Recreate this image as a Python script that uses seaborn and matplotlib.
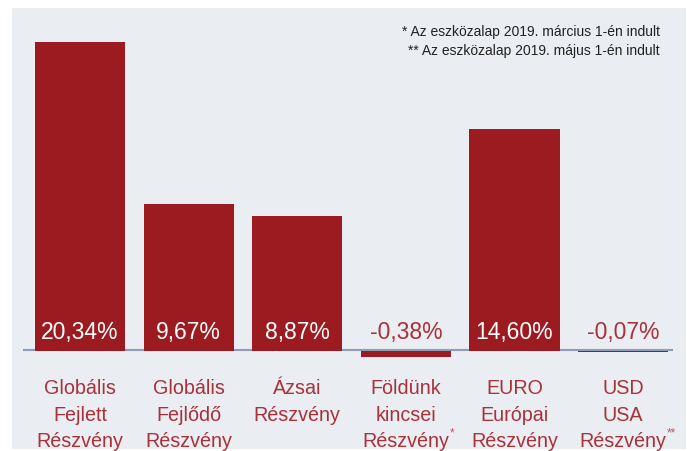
import matplotlib
matplotlib.use("Agg")
import matplotlib.pyplot as plt
import seaborn as sns
import pandas as pd
from matplotlib.patches import Rectangle

categories = ["Globális\nFejlett\nRészvény", "Globális\nFejlődő\nRészvény", "Ázsai\nRészvény",
              "Földünk\nkincsei\nRészvény", "EURO\nEurópai\nRészvény", "USD\nUSA\nRészvény"]
footnote_marks = ["", "", "", "*", "", "**"]
values = [20.34, 9.67, 8.87, -0.38, 14.60, -0.07]
value_labels = ["20,34%", "9,67%", "8,87%", "-0,38%", "14,60%", "-0,07%"]
notes = ["* Az eszközalap 2019. március 1-én indult", "** Az eszközalap 2019. május 1-én indult"]

sns.set_style("white")
plt.rcParams['font.family'] = ['Liberation Sans', 'DejaVu Sans']

BAR = "#9C1B21"
TXT = "#A8323A"
BG = "#EAEDF2"

W, H = 687, 452
DPI = 100
fig = plt.figure(figsize=(W / DPI, H / DPI), dpi=DPI)
fig.patch.set_facecolor("white")
fig.patches.append(Rectangle((12 / W, 2 / H), 674 / W, 441 / H, transform=fig.transFigure,
                             facecolor=BG, edgecolor="none", zorder=-10))

ax = fig.add_axes([23 / W, 1 - 362 / H, 650 / W, 342 / H])
ax.set_facecolor("none")

df = pd.DataFrame({"cat": categories, "val": values})
sns.barplot(data=df, x="cat", y="val", color=BAR, saturation=1, width=0.83, ax=ax)
for p in ax.patches:
    p.set_edgecolor("none")
    p.set_zorder(3)

ax.set_xlim(-0.525, 5.46)
ax.set_ylim(-0.658, 21.857)
ax.axhline(0.08, color="#8C9DB5", lw=1.5, zorder=2)

for i, (v, lab) in enumerate(zip(values, value_labels)):
    ax.text(i, 1.3, lab, ha="center", va="center", fontsize=16.5,
            color="white" if v > 0 else TXT, zorder=5)

LABEL_SIZE = 14.2
ax.set_xlabel("")
ax.set_ylabel("")
ax.set_yticks([])
ax.tick_params(axis="x", length=0, pad=12.5, labelsize=LABEL_SIZE, labelcolor=TXT)
for t in ax.get_xticklabels():
    t.set_linespacing(1.5)
for s in ax.spines.values():
    s.set_visible(False)

fig.canvas.draw()
renderer = fig.canvas.get_renderer()
for t, mark in zip(ax.get_xticklabels(), footnote_marks):
    if mark:
        last_line = t.get_text().split("\n")[-1]
        tmp = fig.text(0, 0, last_line, fontsize=LABEL_SIZE)
        wpx = tmp.get_window_extent(renderer).width
        tmp.remove()
        ax.annotate(mark, xy=(0.5, 0.17), xycoords=t,
                    xytext=(wpx / 2 * 72 / DPI + 0.3, 0), textcoords="offset points",
                    ha="left", va="bottom", fontsize=8.5, color="#B85A60")

fig.text(660 / W, 1 - 32 / H, notes[0], ha="right", va="center", fontsize=10, color="#222222")
fig.text(660 / W, 1 - 51 / H, notes[1], ha="right", va="center", fontsize=10, color="#222222")

fig.savefig("out.png", dpi=DPI)
